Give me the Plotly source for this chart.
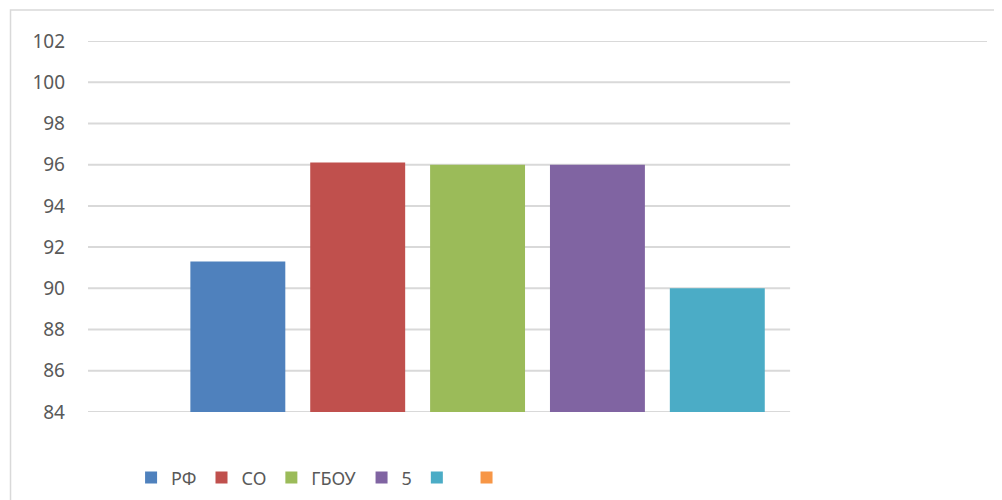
import plotly.graph_objs as go

# one category, six series (last two have no name in the source chart)
categories = ['1']
series_names = ['РФ', 'СО', 'ГБОУ', '5', ' ', '  ']
series_values = [91.3, 96.1, 96.0, 96.0, 90.0, None]
series_colors = ['#4F81BD', '#C0504D', '#9BBB59', '#8064A2', '#4BACC6', '#F79646']
y_ticks = [84, 86, 88, 90, 92, 94, 96, 98, 100, 102]

GRID = '#D9D9D9'
TEXT = '#595959'
FONT = 'Noto Sans'

fig = go.Figure()
for name, val, col in zip(series_names, series_values, series_colors):
    fig.add_trace(go.Bar(
        x=categories,
        y=[val],
        name=name,
        marker_color=col,
        marker_line_width=0,
    ))

# gridlines: excel drew the top one across the full plot area, the rest shorter
shapes = []
for t in y_ticks:
    shapes.append(dict(
        type='line', xref='paper', yref='y',
        x0=0, x1=1.0 if t == y_ticks[-1] else 0.781,
        y0=t, y1=t,
        line=dict(color=GRID, width=2),
        layer='below',
    ))
# chart area border (cropped on the right and bottom)
shapes.append(dict(
    type='rect', xref='paper', yref='paper',
    x0=-0.0862, x1=1.2, y0=-0.5, y1=1.0836,
    line=dict(color=GRID, width=1.5),
    layer='below',
))

# page body has an 8px margin, so the figure is 8px smaller than the window
fig.update_layout(
    width=994,
    height=492,
    margin=dict(l=80, r=15, t=33, b=88, autoexpand=False),
    paper_bgcolor='white',
    plot_bgcolor='white',
    barmode='group',
    bargap=0.2,
    bargroupgap=0.208,
    shapes=shapes,
    font=dict(family=FONT, size=18, color=TEXT),
    showlegend=True,
    legend=dict(
        orientation='h',
        xref='container', yref='container',
        x=0.32, xanchor='center',
        y=0.045, yanchor='middle',
        font=dict(family=FONT, size=18, color=TEXT),
        itemwidth=30,
        traceorder='normal',
    ),
    xaxis=dict(
        showticklabels=False,
        showgrid=False,
        zeroline=False,
        showline=False,
        ticks='',
    ),
    yaxis=dict(
        range=[84, 102],
        tickvals=y_ticks,
        showgrid=False,
        zeroline=False,
        showline=False,
        ticks='',
        ticklabelstandoff=22,
        tickfont=dict(family=FONT, size=19, color=TEXT),
    ),
)

fig.write_html("out.html")
